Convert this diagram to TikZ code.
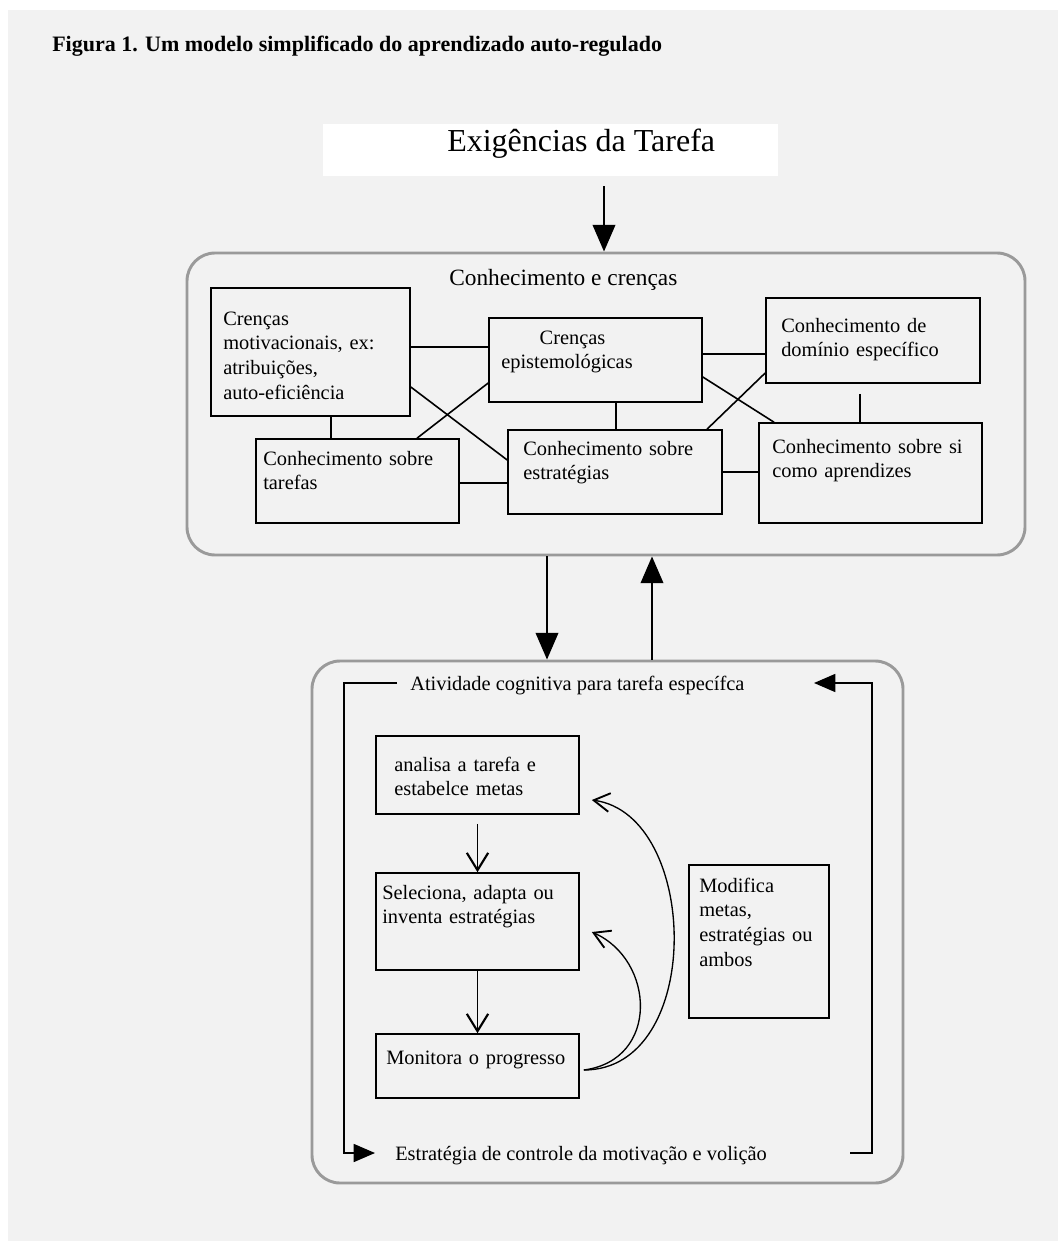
\documentclass[tikz,border=0pt]{standalone}
\usepackage{fontspec}
\setmainfont{Liberation Serif}
\usetikzlibrary{arrows.meta,fit,calc}
\definecolor{bg}{HTML}{F2F2F2}
\definecolor{framegray}{HTML}{9A9A9A}
\newcommand\boxfont{\fontsize{15.3}{18.5}\selectfont}
\newcommand\headfont{\fontsize{17.5}{21}\selectfont}
\newcommand\bigfont{\fontsize{24}{28}\selectfont}
\newcommand\titlefont{\fontsize{16.5}{20}\selectfont\bfseries}
\tikzset{
  bx/.style={draw=black, line width=1.2pt, inner sep=0pt},
  roundbox/.style={draw=framegray, line width=2.2pt, rounded corners=21pt, inner sep=0pt},
  txt/.style={anchor=base west, inner sep=0pt, text width=230pt, align=left, font=\boxfont},
  link/.style={line width=1.2pt},
  bigarrow/.style={line width=1.2pt, -{Triangle[length=20pt,width=17pt]}},
  looparrow/.style={line width=1.2pt, -{Triangle[length=16pt,width=13.5pt]}},
  barb/.style={line width=1.3pt, -{Straight Barb[length=13pt,width=16pt,line width=1.6pt]}},
  curvearrow/.style={line width=1pt, -{Straight Barb[length=12pt,width=14pt,line width=1.4pt]}},
}
\begin{document}
\begin{tikzpicture}[x=0.75pt,y=-0.75pt]
\useasboundingbox (0,0) rectangle (1058,1241);
\fill[white] (0,0) rectangle (1058,1241);
\fill[bg] (8,10) rectangle (1058,1241);

% title
\node[anchor=base west, inner sep=0pt, font=\titlefont] (title) at (52,52)
  {Figura 1. Um modelo simplificado do aprendizado auto-regulado};

% task demands
\node[fill=white, inner sep=0pt, fit={(323,124) (778,176)}] (T) {};
\node[anchor=base west, inner sep=0pt, font=\bigfont] (Ttxt) at (447,152) {Exigências da Tarefa};

% knowledge and beliefs
\node[roundbox, fit={(187,253) (1025,555)}] (K) {};
\node[anchor=base west, inner sep=0pt, font=\headfont] (Ktxt) at (449,285) {Conhecimento e crenças};

\node[bx, fit={(211,288) (410,416)}] (A) {};
\node[txt] (Atxt) at (223,325) {Crenças\\motivacionais, ex:\\atribuições,\\auto-eficiência};
\node[bx, fit={(489,318) (702,402)}] (B) {};
\node[txt] (Btxt) at (501,344) {\hspace*{28.8pt}Crenças\\epistemológicas};
\node[bx, fit={(766,298) (980,383)}] (C) {};
\node[txt] (Ctxt) at (781,332) {Conhecimento de\\domínio específico};
\node[bx, fit={(256,439) (459,523)}] (D) {};
\node[txt] (Dtxt) at (263,465) {Conhecimento sobre\\tarefas};
\node[bx, fit={(508,430) (722,514)}] (E) {};
\node[txt] (Etxt) at (523,455) {Conhecimento sobre\\estratégias};
\node[bx, fit={(759,423) (982,523)}] (F) {};
\node[txt] (Ftxt) at (772,453) {Conhecimento sobre si\\como aprendizes};

% links
\draw[link] (A.east |- 0,347) -- (B.west |- 0,347);
\draw[link] (B.east |- 0,354) -- (C.west |- 0,354);
\draw[link] (A.south -| 331,0) -- (D.north -| 331,0);
\draw[link] (B.south -| 616,0) -- (E.north -| 616,0);
\draw[link] ($(C.south -| 860,0)+(0,10)$) -- (F.north -| 860,0);
\draw[link] (D.east |- 0,483) -- (E.west |- 0,483);
\draw[link] (E.east |- 0,472) -- (F.west |- 0,472);
\draw[link] (A.east |- 0,387) -- (E.west |- 0,460);
\draw[link] (D.north -| 417,0) -- (B.west |- 0,383);
\draw[link] (B.east |- 0,377) -- (F.north -| 774,0);
\draw[link] (E.north -| 707,0) -- (C.west |- 0,373);

% cognitive activity
\node[roundbox, fit={(312,661) (903,1183)}] (L) {};
\node[anchor=base west, inner sep=0pt, font=\boxfont] (Lt) at (410,690) {Atividade cognitiva para tarefa específca};
\node[anchor=base west, inner sep=0pt, font=\boxfont] (Lb) at (395,1160) {Estratégia de controle da motivação e volição};

\node[bx, fit={(376,736) (579,814)}] (G) {};
\node[txt] (Gtxt) at (394,771) {analisa a tarefa e\\estabelce metas};
\node[bx, fit={(376,873) (579,970)}] (H) {};
\node[txt] (Htxt) at (382,899) {Seleciona, adapta ou\\inventa estratégias};
\node[bx, fit={(376,1034) (579,1098)}] (I) {};
\node[txt] (Itxt) at (386,1064) {Monitora o progresso};
\node[bx, fit={(689,865) (829,1018)}] (J) {};
\node[txt] (Jtxt) at (699,892) {Modifica\\metas,\\estratégias ou\\ambos};

% arrows between blocks
\draw[bigarrow] ($(T.south -| 604,0)+(0,10)$) -- (K.north -| 604,0);
\draw[bigarrow] (K.south -| 547,0) -- (L.north -| 547,0);
\draw[bigarrow] (L.north -| 652,0) -- (K.south -| 652,0);

% loop
\coordinate (la) at (397,683);
\coordinate (lb) at (375,1153);
\coordinate (ra) at (850,1153);
\coordinate (rb) at (814,683);
\draw[looparrow] (la) -| (344,1153) -- (lb);
\draw[looparrow] (ra) -| (872,683) -- (rb);

% inner arrows
\draw[barb] ($(G.south)+(0,9)$) -- (H.north);
\draw[barb] (H.south) -- (I.north);
\draw[curvearrow] ($(I.east)+(4,4)$) .. controls (705,1070) and (700,815) .. ($(G.east)+(12,25)$);
\draw[curvearrow] ($(I.east)+(4,4)$) .. controls (660,1060) and (655,960) .. ($(H.east)+(12,10.5)$);
\end{tikzpicture}
\end{document}
